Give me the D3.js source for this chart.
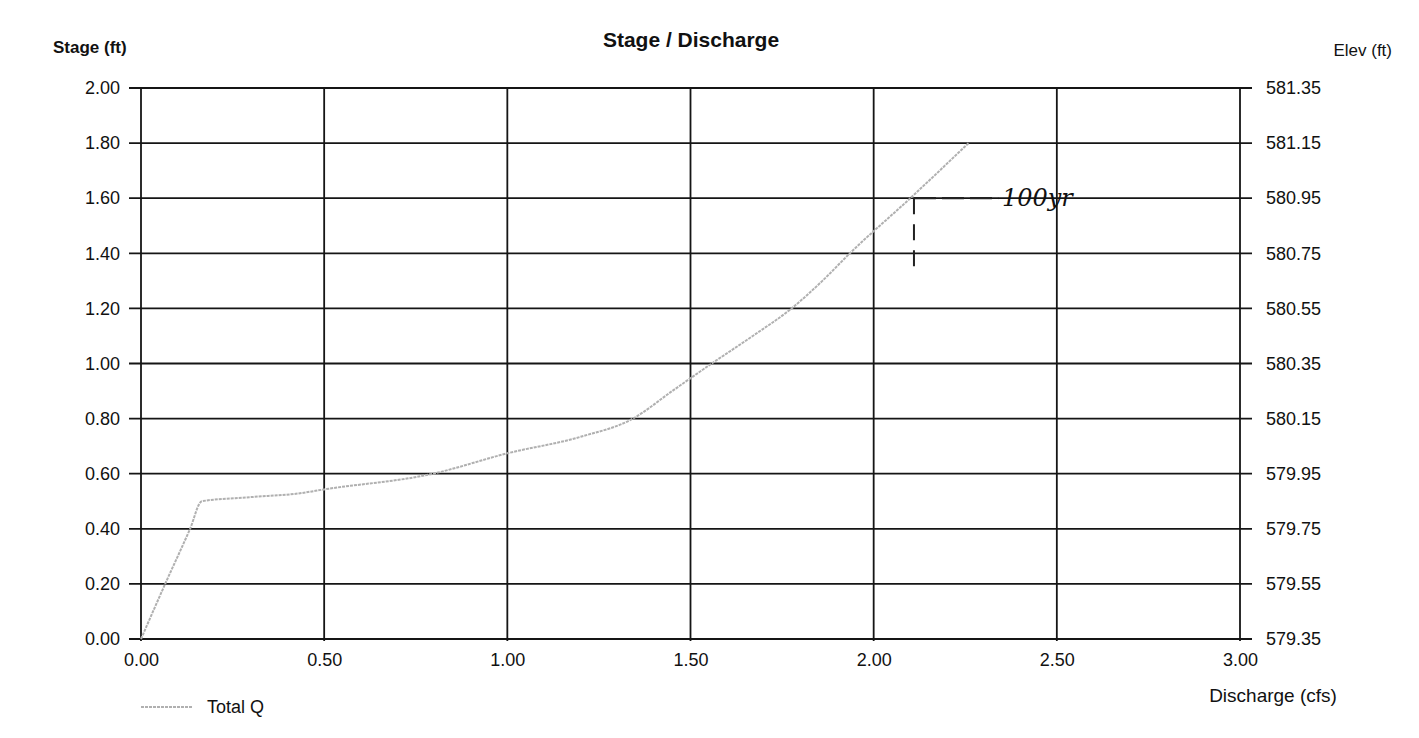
<!DOCTYPE html>
<html>
<head>
<meta charset="utf-8">
<script src="https://cdn.jsdelivr.net/npm/d3@7"></script>
<style>
body { margin: 0; background: #fff; }
text { font-family: "Liberation Sans", Arial, sans-serif; fill: #111; }
</style>
</head>
<body>
<script>
var w = 1419;
var h = 738;

// discharge (cfs) and stage (ft)
var discharge = [0, 0.066, 0.134, 0.166, 0.30, 0.434, 0.50, 0.797, 1.00, 1.20, 1.343, 1.45, 1.558, 1.67, 1.776, 1.86, 1.935, 2.10, 2.259];
var stage     = [0, 0.20, 0.40, 0.50, 0.515, 0.529, 0.543, 0.60, 0.674, 0.734, 0.80, 0.90, 1.00, 1.10, 1.20, 1.30, 1.40, 1.60, 1.80];

var xTicks = [0, 0.5, 1.0, 1.5, 2.0, 2.5, 3.0];
var yTicks = [0, 0.2, 0.4, 0.6, 0.8, 1.0, 1.2, 1.4, 1.6, 1.8, 2.0];
var elevLabels = ["579.35", "579.55", "579.75", "579.95", "580.15", "580.35", "580.55", "580.75", "580.95", "581.15", "581.35"];

var plotLeft = 141, plotRight = 1240, plotTop = 88, plotBottom = 639;

var xScale = d3.scaleLinear().domain([0, 3]).range([plotLeft, plotRight]);
var yScale = d3.scaleLinear().domain([0, 2]).range([plotBottom, plotTop]);

var svg = d3.select("body").append("svg")
    .attr("width", w)
    .attr("height", h);

//Grid: horizontal lines with ticks poking out both sides
svg.append("g").selectAll("line")
    .data(yTicks)
    .enter().append("line")
    .attr("x1", plotLeft - 12)
    .attr("x2", plotRight + 12)
    .attr("y1", function(d) { return yScale(d); })
    .attr("y2", function(d) { return yScale(d); })
    .attr("stroke", "#151515")
    .attr("stroke-width", 1.8);

//Grid: vertical lines
svg.append("g").selectAll("line")
    .data(xTicks)
    .enter().append("line")
    .attr("x1", function(d) { return xScale(d); })
    .attr("x2", function(d) { return xScale(d); })
    .attr("y1", plotTop)
    .attr("y2", plotBottom + 2)
    .attr("stroke", "#151515")
    .attr("stroke-width", 1.8);

//Left axis labels
var yAxis = d3.axisLeft(yScale)
    .tickValues(yTicks)
    .tickFormat(d3.format(".2f"))
    .tickSize(0)
    .tickPadding(21);
var gy = svg.append("g")
    .attr("transform", "translate(" + plotLeft + ",0)")
    .call(yAxis);

//Right axis labels (elevation)
var yAxisR = d3.axisRight(yScale)
    .tickValues(yTicks)
    .tickFormat(function(d, i) { return elevLabels[i]; })
    .tickSize(0)
    .tickPadding(26);
var gyr = svg.append("g")
    .attr("transform", "translate(" + plotRight + ",0)")
    .call(yAxisR);

//Bottom axis labels
var xAxis = d3.axisBottom(xScale)
    .tickValues(xTicks)
    .tickFormat(d3.format(".2f"))
    .tickSize(0)
    .tickPadding(14);
var gx = svg.append("g")
    .attr("transform", "translate(0," + plotBottom + ")")
    .call(xAxis);

[gy, gyr, gx].forEach(function(g) {
  g.select(".domain").remove();
  g.selectAll("text")
    .style("font-family", "'Liberation Sans', Arial, sans-serif")
    .style("font-size", "18px")
    .attr("fill", "#111");
});

//Curve
var line = d3.line()
    .curve(d3.curveMonotoneX)
    .x(function(d) { return xScale(d[0]); })
    .y(function(d) { return yScale(d[1]); });

var pts = discharge.map(function(q, i) { return [q, stage[i]]; });

svg.append("path")
    .datum(pts)
    .attr("d", line)
    .attr("fill", "none")
    .attr("stroke", "#b0b0b0")
    .attr("stroke-width", 2)
    .attr("stroke-dasharray", "3,1");

//Handwritten 100yr mark
svg.append("line")
    .attr("x1", xScale(2.11)).attr("x2", xScale(2.11))
    .attr("y1", yScale(1.6)).attr("y2", yScale(1.32))
    .attr("stroke", "#222").attr("stroke-width", 2)
    .attr("stroke-dasharray", "16,10");
svg.append("line")
    .attr("x1", xScale(2.11)).attr("x2", xScale(2.34))
    .attr("y1", yScale(1.6)).attr("y2", yScale(1.6))
    .attr("stroke", "#222").attr("stroke-width", 2.2)
    .attr("stroke-dasharray", "22,6");
svg.append("text")
    .attr("x", xScale(2.35))
    .attr("y", yScale(1.6) + 8)
    .style("font-family", "'DejaVu Serif', serif")
    .style("font-style", "italic")
    .style("font-size", "24px")
    .text("100yr");

//Titles
svg.append("text")
    .attr("x", 691)
    .attr("y", 47)
    .attr("text-anchor", "middle")
    .style("font-weight", "bold")
    .style("font-size", "21px")
    .text("Stage / Discharge");

svg.append("text")
    .attr("x", 53)
    .attr("y", 53)
    .style("font-weight", "bold")
    .style("font-size", "17px")
    .text("Stage (ft)");

svg.append("text")
    .attr("x", 1392)
    .attr("y", 56)
    .attr("text-anchor", "end")
    .style("font-size", "17px")
    .text("Elev (ft)");

svg.append("text")
    .attr("x", 1273)
    .attr("y", 702)
    .attr("text-anchor", "middle")
    .style("font-size", "19px")
    .text("Discharge (cfs)");

//Legend
svg.append("line")
    .attr("x1", 141).attr("x2", 193)
    .attr("y1", 707).attr("y2", 707)
    .attr("stroke", "#b0b0b0")
    .attr("stroke-width", 2)
    .attr("stroke-dasharray", "3,1");
svg.append("text")
    .attr("x", 207)
    .attr("y", 713)
    .style("font-size", "18px")
    .text("Total Q");
</script>
</body>
</html>
